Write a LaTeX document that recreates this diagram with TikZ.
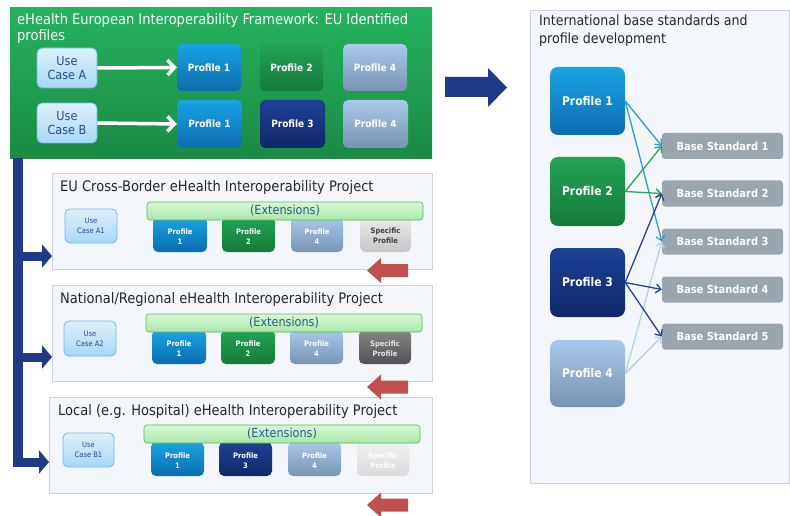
\documentclass[tikz,border=0pt]{standalone}
\usepackage{fontspec}
\setmainfont{DejaVu Sans Condensed}
\usetikzlibrary{arrows.meta}
\definecolor{navy}{HTML}{1F3A86}
\definecolor{redarr}{HTML}{C0504D}
\definecolor{panelbg}{HTML}{F3F7FB}
\definecolor{panelbd}{HTML}{C9D3DD}
\definecolor{uctext}{HTML}{2B4C8C}
\definecolor{exttext}{HTML}{2A5A8A}
\definecolor{bsgray}{HTML}{9AA5AE}
\definecolor{greentop}{HTML}{24B35E}
\definecolor{greenbot}{HTML}{1C8A43}
\definecolor{uccolor}{HTML}{6BB8E8}
\definecolor{uctop}{HTML}{DDF0FC}
\definecolor{ucbot}{HTML}{A9D7F5}
\definecolor{p1top}{HTML}{1AA3E3}
\definecolor{p1bot}{HTML}{0B6DAE}
\definecolor{p2top}{HTML}{22A453}
\definecolor{p2bot}{HTML}{167A3A}
\definecolor{p3top}{HTML}{1E4298}
\definecolor{p3bot}{HTML}{0F2867}
\definecolor{p4top}{HTML}{A8C9EA}
\definecolor{p4bot}{HTML}{7893B3}
\definecolor{exttop}{HTML}{D8F7D8}
\definecolor{extbot}{HTML}{A8E8A8}
\definecolor{extbd}{HTML}{58B858}
\definecolor{c1}{HTML}{2E9BD6}
\definecolor{c2}{HTML}{2FA35C}
\definecolor{c3}{HTML}{27428F}
\definecolor{c4}{HTML}{B5D0EC}
\tikzset{
  base/.style={rounded corners=5pt, inner sep=0pt, align=center},
  usecase/.style={base, draw=uccolor, line width=0.8pt, top color=uctop, bottom color=ucbot, text=uctext},
  profA/.style={base, top color=p1top, bottom color=p1bot, text=white, font=\bfseries},
  profB/.style={base, top color=p2top, bottom color=p2bot, text=white, font=\bfseries},
  profC/.style={base, top color=p3top, bottom color=p3bot, text=white, font=\bfseries},
  profD/.style={base, top color=p4top, bottom color=p4bot, text=white, font=\bfseries},
  panel/.style={draw=panelbd, fill=panelbg, line width=0.8pt, inner sep=0pt},
  extbar/.style={base, rounded corners=3pt, draw=extbd, line width=0.6pt, top color=exttop, bottom color=extbot, text=exttext, font=\fontsize{12.5}{12.5}\selectfont},
  bstd/.style={base, rounded corners=3pt, fill=bsgray, text=white, font=\fontsize{11}{12}\selectfont\bfseries, minimum width=121pt, minimum height=26pt},
  whitearr/.style={draw=white, line width=3.5pt, -{Straight Barb[length=7pt,width=15pt,line width=3.5pt]}},
  navybar/.style={draw=navy, line width=10pt},
  navyarr/.style={draw=navy, line width=9pt, -{Triangle[length=10pt,width=23pt]}},
  conn/.style={line width=1.3pt, -{Straight Barb[length=5pt,width=9pt]}},
  small/.style={font=\fontsize{7.5}{10}\selectfont\bfseries},
  ptitle/.style={anchor=west, inner sep=0pt, text=black!85, font=\fontsize{14.5}{14.5}\selectfont},
  toplab/.style={font=\fontsize{10}{12}\selectfont\bfseries},
}
\begin{document}
\begin{tikzpicture}[x=1pt,y=1pt]
\useasboundingbox (0,0) rectangle (790,-516);
\fill[white] (0,0) rectangle (790,-516);

% ===== top green panel =====
\node[inner sep=0pt, minimum width=422pt, minimum height=151pt, anchor=north west,
      top color=greentop, bottom color=greenbot] (eu) at (10,-7) {};
\node[anchor=north west, inner sep=0pt, align=left, text=white, font=\fontsize{14.5}{16.5}\selectfont] (eut) at (17,-13)
  {eHealth European Interoperability Framework: EU Identified\\profiles};

\node[usecase, minimum width=60pt, minimum height=40pt, font=\fontsize{12.5}{14}\selectfont] (ucA) at (67,-68) {Use\\Case A};
\node[usecase, minimum width=60pt, minimum height=40pt, font=\fontsize{12.5}{14}\selectfont] (ucB) at (67,-123) {Use\\Case B};

\node[profA, toplab, minimum width=64pt, minimum height=47pt] (a1) at (209,-67.5) {Profile 1};
\node[profB, toplab, minimum width=63pt, minimum height=47pt] (a2) at (291.5,-67.5) {Profile 2};
\node[profD, toplab, minimum width=64pt, minimum height=47pt] (a4) at (375,-67.5) {Profile 4};
\node[profA, toplab, minimum width=65pt, minimum height=48pt] (b1) at (209.5,-124) {Profile 1};
\node[profC, toplab, minimum width=65pt, minimum height=48pt] (b3) at (292.5,-124) {Profile 3};
\node[profD, toplab, minimum width=65pt, minimum height=48pt] (b4) at (375.5,-124) {Profile 4};

\draw[whitearr] (ucA.east) -- (a1.west);
\draw[whitearr] (ucB.east) -- (b1.west);

% ===== big navy arrow =====
\fill[navy] (445,-77) -- (488,-77) -- (488,-68) -- (507,-87.5) -- (488,-107) -- (488,-97) -- (445,-97) -- cycle;

% ===== right panel =====
\node[panel, minimum width=259pt, minimum height=473pt, anchor=north west] (intl) at (530,-10) {};
\node[anchor=north west, inner sep=0pt, align=left, text=black!85, font=\fontsize{14}{17.5}\selectfont] (intlt) at (539,-15)
  {International base standards and\\profile development};

\node[profA, minimum width=75pt, minimum height=68pt, rounded corners=8pt, font=\fontsize{12}{12}\selectfont\bfseries] (r1) at (587.5,-101) {Profile 1};
\node[profB, minimum width=75pt, minimum height=69pt, rounded corners=8pt, font=\fontsize{12}{12}\selectfont\bfseries] (r2) at (587.5,-191.5) {Profile 2};
\node[profC, minimum width=75pt, minimum height=69pt, rounded corners=8pt, font=\fontsize{12}{12}\selectfont\bfseries] (r3) at (587.5,-282.5) {Profile 3};
\node[profD, minimum width=75pt, minimum height=67pt, rounded corners=8pt, font=\fontsize{12}{12}\selectfont\bfseries] (r4) at (587.5,-373.5) {Profile 4};

\node[bstd] (s1) at (722.5,-146) {Base Standard 1};
\node[bstd] (s2) at (722.5,-193.5) {Base Standard 2};
\node[bstd] (s3) at (722.5,-241.5) {Base Standard 3};
\node[bstd] (s4) at (722.5,-289.5) {Base Standard 4};
\node[bstd] (s5) at (722.5,-336.5) {Base Standard 5};

\draw[conn, c4] (r4.east) -- (s3.west);
\draw[conn, c4] (r4.east) -- (s5.west);
\draw[conn, c1] (r1.east) -- (s1.west);
\draw[conn, c1] (r1.east) -- (s3.west);
\draw[conn, c2] (r2.east) -- (s1.west);
\draw[conn, c2] (r2.east) -- (s2.west);
\draw[conn, c3] (r3.east) -- (s2.west);
\draw[conn, c3] (r3.east) -- (s4.west);
\draw[conn, c3] (r3.east) -- (s5.west);

% ===== project panels =====
\node[panel, minimum width=380pt, minimum height=96pt, anchor=north west] (pa) at (52,-173) {};
\node[panel, minimum width=380pt, minimum height=96pt, anchor=north west] (pb) at (52,-285) {};
\node[panel, minimum width=383pt, minimum height=96pt, anchor=north west] (pc) at (49,-397) {};

\node[ptitle] (pat) at (60,-187) {EU Cross-Border eHealth Interoperability Project};
\node[ptitle] (pbt) at (60,-299) {National/Regional eHealth Interoperability Project};
\node[ptitle] (pct) at (58,-411) {Local (e.g. Hospital) eHealth Interoperability Project};

% panel A
\node[usecase, minimum width=52pt, minimum height=34pt, font=\fontsize{7.5}{10}\selectfont] (ua1) at (91,-226) {Use\\Case A1};
\node[profA, small, minimum width=54pt, minimum height=35pt] (pa1) at (180,-234.5) {\\[-1pt]Profile\\1};
\node[profB, small, minimum width=53pt, minimum height=35pt] (pa2) at (248.5,-234.5) {\\[-1pt]Profile\\2};
\node[profD, small, minimum width=52pt, minimum height=35pt] (pa4) at (317,-234.5) {\\[-1pt]Profile\\4};
\node[base, small, top color=black!8, bottom color=black!22, text=black!75, minimum width=51pt, minimum height=35pt] (pas) at (385.5,-234.5) {\\[-1pt]Specific\\Profile};
\node[extbar, minimum width=276pt, minimum height=18pt] (exa) at (285,-211) {(Extensions)};

% panel B
\node[usecase, minimum width=52pt, minimum height=35pt, font=\fontsize{7.5}{10}\selectfont] (ua2) at (90,-338.5) {Use\\Case A2};
\node[profA, small, minimum width=54pt, minimum height=34pt] (pb1) at (179,-347) {\\[-1pt]Profile\\1};
\node[profB, small, minimum width=54pt, minimum height=34pt] (pb2) at (248,-347) {\\[-1pt]Profile\\2};
\node[profD, small, minimum width=53pt, minimum height=34pt] (pb4) at (316.5,-347) {\\[-1pt]Profile\\4};
\node[base, small, top color=black!48, bottom color=black!68, text=white!90!black, minimum width=52pt, minimum height=34pt] (pbs) at (385,-347) {\\[-1pt]Specific\\Profile};
\node[extbar, minimum width=276pt, minimum height=18pt] (exb) at (284,-323) {(Extensions)};

% panel C
\node[usecase, minimum width=51pt, minimum height=34pt, font=\fontsize{7.5}{10}\selectfont] (ub1) at (88.5,-450) {Use\\Case B1};
\node[profA, small, minimum width=53pt, minimum height=34pt] (pc1) at (177.5,-459) {\\[-1pt]Profile\\1};
\node[profC, small, minimum width=53pt, minimum height=34pt] (pc3) at (245.5,-459) {\\[-1pt]Profile\\3};
\node[profD, small, minimum width=53pt, minimum height=34pt] (pc4) at (314.5,-459) {\\[-1pt]Profile\\4};
\node[base, small, top color=black!6, bottom color=black!14, text=white, minimum width=52pt, minimum height=34pt] (pcs) at (383,-459) {\\[-1pt]Specific\\Profile};
\node[extbar, minimum width=276pt, minimum height=18pt] (exc) at (282,-434) {(Extensions)};

% ===== left navy connector =====
\coordinate (vtop) at (18,-158);
\coordinate (vbot) at (18,-466.5);
\draw[navybar] (vtop) -- (vbot);
\coordinate (ja) at (18,-256);
\coordinate (jb) at (18,-357);
\coordinate (jc) at (18,-462);
\draw[navyarr] (ja) -- (ja -| pa.west);
\draw[navyarr] (jb) -- (jb -| pb.west);
\draw[navyarr] (jc) -- (jc -| pc.west);

% ===== red arrows =====
\foreach \yy in {-270.5,-387,-505}{
  \fill[redarr] (367,\yy) -- (381,\yy+12.5) -- (381,\yy+6.5) -- (408,\yy+6.5) -- (408,\yy-6.5) -- (381,\yy-6.5) -- (381,\yy-12.5) -- cycle;
}
\end{tikzpicture}
\end{document}
